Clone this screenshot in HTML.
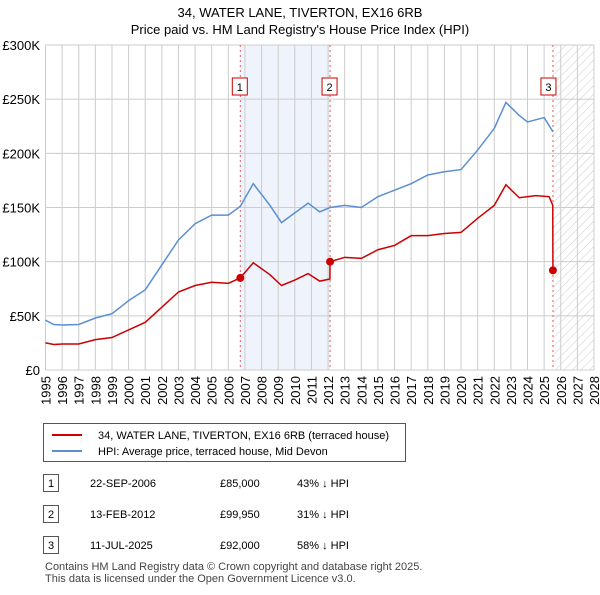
<!DOCTYPE html>
<html><head><meta charset="utf-8"><style>
body{margin:0;background:#fff;font-family:"Liberation Sans",sans-serif;color:#222}
svg text{font-family:"Liberation Sans",sans-serif}
</style></head><body>
<svg width="600" height="590" xmlns="http://www.w3.org/2000/svg">
<defs><pattern id="hatch" width="6" height="6" patternUnits="userSpaceOnUse" patternTransform="rotate(45)"><line x1="0" y1="0" x2="0" y2="6" stroke="#ccc" stroke-width="1"/></pattern></defs>
<text x="300" y="17" text-anchor="middle" font-size="13">34, WATER LANE, TIVERTON, EX16 6RB</text>
<text x="300" y="34" text-anchor="middle" font-size="13">Price paid vs. HM Land Registry's House Price Index (HPI)</text>
<g id="plot"></g>
<g>
<rect x="43.5" y="423.5" width="362" height="38" fill="#fff" stroke="#555"/>
<line x1="52" y1="435" x2="82" y2="435" stroke="#cc0000" stroke-width="2"/>
<text x="98" y="439" font-size="11">34, WATER LANE, TIVERTON, EX16 6RB (terraced house)</text>
<line x1="52" y1="451" x2="82" y2="451" stroke="#5b8fd0" stroke-width="2"/>
<text x="98" y="455" font-size="11">HPI: Average price, terraced house, Mid Devon</text>
</g>
<g id="table" font-size="11"></g>
<text x="45" y="570" font-size="11" fill="#444">Contains HM Land Registry data © Crown copyright and database right 2025.</text>
<text x="45" y="582" font-size="11" fill="#444">This data is licensed under the Open Government Licence v3.0.</text>
</svg>
<script>
const hpiYears=[1995,1995.5,1996,1997,1998,1999,2000,2001,2002,2003,2004,2005,2006,2006.72,2007.5,2008.5,2009.2,2010,2010.8,2011.5,2012.12,2013,2014,2015,2016,2017,2018,2019,2020,2021,2022,2022.7,2023.5,2024,2025,2025.53];
const hpiValues=[46000,42000,41500,42000,48000,52000,64000,74000,97000,120000,135000,143000,143000,151000,172000,152000,136000,145000,154000,146000,150000,152000,150000,160000,166000,172000,180000,183000,185000,203000,223000,247000,235000,229000,233000,220000];
const priceYears=[1995,1995.5,1996,1997,1998,1999,2000,2001,2002,2003,2004,2005,2006,2006.72,2007.5,2008.5,2009.2,2010,2010.8,2011.5,2012.11,2012.12,2013,2014,2015,2016,2017,2018,2019,2020,2021,2022,2022.7,2023.5,2024.5,2025.3,2025.52,2025.53];
const priceValues=[25000,23500,24000,24000,28000,30000,37000,44000,58000,72000,78000,81000,80000,85000,99000,88000,78000,83000,89000,82000,84000,99950,104000,103000,111000,115000,124000,124000,126000,127000,140000,152000,171000,159000,161000,160000,152000,92000];
const saleYears=[2006.72,2012.12,2025.53];
const saleValues=[85000,99950,92000];
const saleLabels=["1","2","3"];
const saleDates=["22-SEP-2006","13-FEB-2012","11-JUL-2025"];
const salePrices=["£85,000","£99,950","£92,000"];
const saleDiffs=["43% ↓ HPI","31% ↓ HPI","58% ↓ HPI"];
const yTicks=[0,50000,100000,150000,200000,250000,300000];
const yTickLabels=["£0","£50K","£100K","£150K","£200K","£250K","£300K"];
const xTicks=[];for(let y=1995;y<=2028;y++)xTicks.push(y);

const X0=45.5,X1=594,Y0=370,Y1=45;
const xs=y=>X0+(y-1995)/33*(X1-X0);
const ys=v=>Y0-v/300000*(Y0-Y1);
const NS="http://www.w3.org/2000/svg";
const plot=document.getElementById('plot');
function mk(tag,attrs,parent){const e=document.createElementNS(NS,tag);for(const k in attrs)e.setAttribute(k,attrs[k]);(parent||plot).appendChild(e);return e;}

let e=mk('rect',{x:xs(saleYears[0]),y:Y1,width:xs(saleYears[1])-xs(saleYears[0]),height:Y0-Y1,fill:'#eef3fc'});


e=mk('rect',{x:xs(saleYears[2]),y:Y1,width:X1-xs(saleYears[2]),height:Y0-Y1,fill:'url(#hatch)'});


xTicks.forEach(t=>{
 const g=mk('line',{x1:xs(t),x2:xs(t),y1:Y1,y2:Y0,stroke:'#ccc'});
 
 
 const tx=mk('text',{x:xs(t),y:0,'font-size':13,'text-anchor':'end',transform:`translate(${xs(t)+5},${Y0+6}) rotate(-90)`});
 tx.setAttribute('x',0);tx.textContent=t;
 
 
});
yTicks.forEach((t,i)=>{
 const g=mk('line',{x1:X0,x2:X1,y1:ys(t),y2:ys(t),stroke:'#ccc'});
 
 
 const tx=mk('text',{x:40,y:ys(t)+5,'font-size':13,'text-anchor':'end'});
 tx.textContent=yTickLabels[i];
 
 
});
saleYears.forEach((s,i)=>{
 const l=mk('line',{x1:xs(s),x2:xs(s),y1:Y1,y2:Y0,stroke:'#e06060','stroke-dasharray':'2,3'});
 
 
 const bx=xs(s)-(i==2?14:7)+ (i==2?0:0);
 const r=mk('rect',{x:xs(s)-(i==2?12:8)-(i==0?0:0),y:78,width:15,height:17,fill:'#fff',stroke:'#cc0000'});
 
 
 const t=mk('text',{x:xs(s)-(i==2?12:8)+7.5,y:91,'font-size':11,'text-anchor':'middle'});
 t.textContent=saleLabels[i];
 
 
});
let p=mk('polyline',{points:hpiYears.map((y,i)=>xs(y)+','+ys(hpiValues[i])).join(' '),fill:'none',stroke:'#5b8fd0','stroke-width':1.5});


p=mk('polyline',{points:priceYears.map((y,i)=>xs(y)+','+ys(priceValues[i])).join(' '),fill:'none',stroke:'#cc0000','stroke-width':1.5});


saleYears.forEach((s,i)=>{
 const c=mk('circle',{cx:xs(s),cy:ys(saleValues[i]),r:4,fill:'#cc0000'});
 
 
});
const tb=document.getElementById('table');
const rowY=[483,514,545];
saleLabels.forEach((l,i)=>{
 const r=mk('rect',{x:43.5,y:rowY[i]-8.5,width:15,height:17,fill:'#fff',stroke:'#555'},tb);
 
 
 const cells=[[51,l,'middle'],[90,saleDates[i],'start'],[220,salePrices[i],'start'],[297,saleDiffs[i],'start']];
 cells.forEach(c=>{
  const t=mk('text',{x:c[0],y:rowY[i]+4,'text-anchor':c[2]},tb);
  t.textContent=c[1];
  
  
 });
});
</script>
</body></html>
